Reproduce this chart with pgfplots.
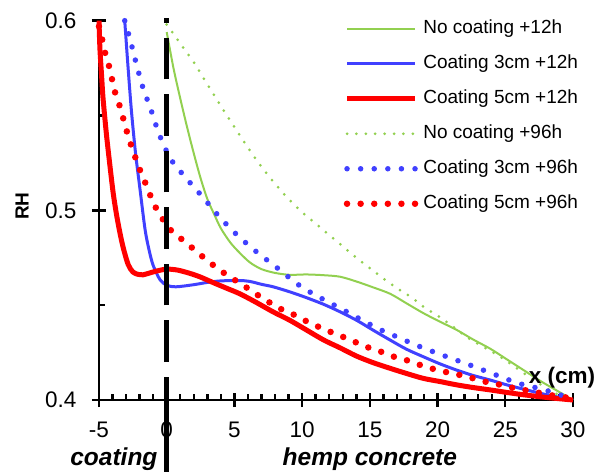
\documentclass[border=0pt]{standalone}
\usepackage{fontspec}
\setmainfont{Liberation Sans}
\usepackage{pgfplots}
\pgfplotsset{compat=1.18}
\definecolor{ngreen}{HTML}{92D050}
\definecolor{nblue}{HTML}{4040FF}
\definecolor{nred}{HTML}{FF0000}
\begin{document}
\begin{tikzpicture}
\useasboundingbox (-99bp,-75bp) rectangle (506bp,400bp);
\begin{axis}[
  width=474bp, height=379.3bp, scale only axis,
  xmin=-5, xmax=30, ymin=0.4, ymax=0.6,
  axis x line=bottom, axis y line=left,
  axis line style={line width=2.7bp, -},
  xtick={-5,0,...,30}, ytick={0.4,0.5,0.6},
  minor x tick num=4, minor y tick num=1,
  tick align=center, major tick length=14bp, minor tick length=6bp,
  every tick/.append style={black, line width=2.4bp},
  minor x tick style={yshift=3bp}, minor y tick style={xshift=3bp},
  /pgf/number format/assume math mode=true,
  yticklabel style={/pgf/number format/fixed, /pgf/number format/precision=1, xshift=-12bp},
  xticklabel style={yshift=-11bp},
  tick label style={font=\fontsize{22.5bp}{26bp}\selectfont},
  clip=false,
  legend cell align=left,
  legend image code/.code={\draw[#1] (0bp,0bp) -- (68bp,0bp);},
  legend style={draw=none, fill=none, at={(0.516,1.003)}, anchor=north west,
    inner sep=0pt, row sep=17bp, column sep=5bp, font=\fontsize{19bp}{22bp}\selectfont,
    nodes={inner sep=0pt, text height=14bp, text depth=4bp}},
]
% +12h
\addplot[ngreen, line width=2bp, smooth, tension=0.5] coordinates {
(0,0.594) (0.5,0.575) (1,0.559) (1.5,0.544) (2,0.530) (2.5,0.517) (3,0.506)
(3.5,0.498) (4,0.4905) (4.7,0.483) (5.4,0.4775) (6.15,0.4725) (7,0.469) (8,0.467)
(9.1,0.466) (10.3,0.4662) (11.6,0.4658) (12.8,0.465) (14,0.4625) (15.2,0.4595)
(16.5,0.456) (17.7,0.451) (18.95,0.4458) (20.2,0.4412) (21.4,0.437) (22.6,0.432)
(23.9,0.427) (25.1,0.4215) (26.3,0.416) (27.6,0.410) (28.8,0.405) (30,0.400)};
\addlegendentry{No coating +12h}
\addplot[nblue, line width=3bp, smooth, tension=0.5] coordinates {
(-3.1,0.600) (-2.85,0.575) (-2.6,0.552) (-2.3,0.530) (-1.97,0.511) (-1.6,0.490)
(-1.3,0.479) (-1.0,0.471) (-0.5,0.4635) (0,0.4605) (0.7,0.4597) (2,0.4608)
(3,0.462) (4,0.4628) (5.4,0.463) (6.15,0.4625) (7,0.461) (7.85,0.4597) (9.1,0.457)
(10.3,0.454) (11.57,0.4505) (12.8,0.4465) (14.03,0.442) (15.2,0.437) (16.5,0.4316)
(17.7,0.4268) (18.95,0.4228) (20.2,0.419) (21.4,0.4158) (22.6,0.413) (23.9,0.4105)
(25.1,0.408) (26.3,0.4058) (27.6,0.4035) (28.8,0.4017) (30,0.4)};
\addlegendentry{Coating 3cm +12h}
\addplot[nred, line width=5bp, smooth, tension=0.5] coordinates {
(-5,0.600) (-4.93,0.585) (-4.8,0.570) (-4.7,0.559) (-4.45,0.540) (-4.2,0.524)
(-3.95,0.509) (-3.7,0.4975) (-3.45,0.488) (-3.2,0.480) (-2.85,0.4715) (-2.5,0.4675)
(-2.1,0.4662) (-1.75,0.466) (-1.25,0.467) (-0.75,0.468) (0,0.469) (0.8,0.4685)
(1.7,0.4668) (2.5,0.4648) (3.4,0.462) (4.4,0.459) (5.4,0.456) (6.6,0.4515)
(7.85,0.4465) (9.1,0.442) (10.3,0.437) (11.6,0.4316) (12.8,0.4275) (14.0,0.4232)
(15.2,0.4198) (16.5,0.4167) (17.7,0.414) (18.95,0.4114) (20.2,0.4097) (21.4,0.408)
(22.6,0.4066) (23.9,0.4053) (25.1,0.404) (26.3,0.4028) (27.6,0.4017) (28.8,0.4008)
(30,0.4)};
\addlegendentry{Coating 5cm +12h}
% +96h
\addplot[ngreen, line width=3bp, line cap=round, dash pattern=on 0bp off 9.4bp, smooth, tension=0.5] coordinates {
(0,0.598) (1,0.588) (2,0.578) (3,0.5665) (4,0.555) (5,0.544) (6,0.533) (7,0.523)
(8,0.514) (9,0.506) (10,0.499) (11,0.493) (12,0.487) (13,0.481) (14,0.475)
(15,0.4695) (16,0.464) (17,0.459) (18,0.4545) (19,0.449) (20,0.4445) (21,0.4395)
(22,0.434) (23,0.4295) (24,0.4255) (25,0.421) (26,0.416) (27,0.411) (28,0.4065)
(29,0.4025) (30,0.4)};
\addlegendentry{No coating +96h}
\addplot[nblue, line width=5.5bp, line cap=round, dash pattern=on 0bp off 13.6bp, smooth, tension=0.5] coordinates {
(-3.1,0.600) (-2.7,0.590) (-2.27,0.578) (-1.77,0.565) (-1.16,0.553) (-0.55,0.540)
(0.3,0.527) (1.43,0.517) (2.66,0.507) (3.9,0.4965) (5.2,0.487) (6.65,0.478)
(8.1,0.470) (9.6,0.4614) (10.8,0.456) (12.06,0.4512) (13.3,0.4465) (14.5,0.4418)
(15.8,0.437) (17.1,0.433) (18.4,0.429) (19.7,0.4254) (21,0.422) (22.4,0.4184)
(24.2,0.4135) (25.97,0.4088) (27.75,0.4056) (29.5,0.4017) (30,0.4005)};
\addlegendentry{Coating 3cm +96h}
\addplot[nred, line width=6.5bp, line cap=round, dash pattern=on 0bp off 13.6bp, smooth, tension=0.5] coordinates {
(-5,0.597) (-4.73,0.589) (-4.48,0.581) (-4.13,0.573) (-3.94,0.565) (-3.6,0.558)
(-3.27,0.550) (-2.96,0.542) (-2.64,0.5346) (-2.27,0.527) (-1.85,0.519) (-1.43,0.512)
(-0.99,0.504) (-0.44,0.497) (0.24,0.490) (0.98,0.4855) (1.92,0.480) (2.75,0.475)
(3.64,0.470) (4.55,0.4654) (5.54,0.461) (6.47,0.4565) (7.46,0.452) (8.42,0.448)
(9.48,0.4447) (10.46,0.441) (11.5,0.4377) (12.55,0.4346) (13.6,0.4316) (14.6,0.4284)
(15.7,0.4258) (16.7,0.423) (17.85,0.4207) (18.9,0.418) (19.99,0.4158) (21.1,0.414)
(22.2,0.4123) (23.3,0.410) (24.4,0.4084) (25.5,0.4065) (26.6,0.405) (27.7,0.4035)
(28.8,0.402) (29.9,0.401)};
\addlegendentry{Coating 5cm +96h}
% interface between coating and hemp concrete
\draw[black, line width=5bp, dash pattern=on 41.5bp off 15bp, dash phase=18.5bp]
  (axis cs:0,0.4) -- (axis cs:0,0.6016);
\draw[black, line width=5bp] (axis cs:0,0.4) -- (axis cs:0,0.3621);
% axis titles
\node[rotate=90, anchor=center, font=\fontsize{19bp}{22bp}\selectfont\bfseries]
  at (axis description cs:-0.1624,0.511) {RH};
\node[anchor=center, font=\fontsize{22.5bp}{26bp}\selectfont\bfseries]
  at (axis description cs:0.977,0.058) {x (cm)};
\node[anchor=base, font=\fontsize{24.5bp}{28bp}\selectfont\bfseries\itshape]
  at (axis cs:-3.9,0.36526) {coating};
\node[anchor=base, font=\fontsize{24.5bp}{28bp}\selectfont\bfseries\itshape]
  at (axis cs:15,0.36526) {hemp concrete};
\end{axis}
\end{tikzpicture}
\end{document}
